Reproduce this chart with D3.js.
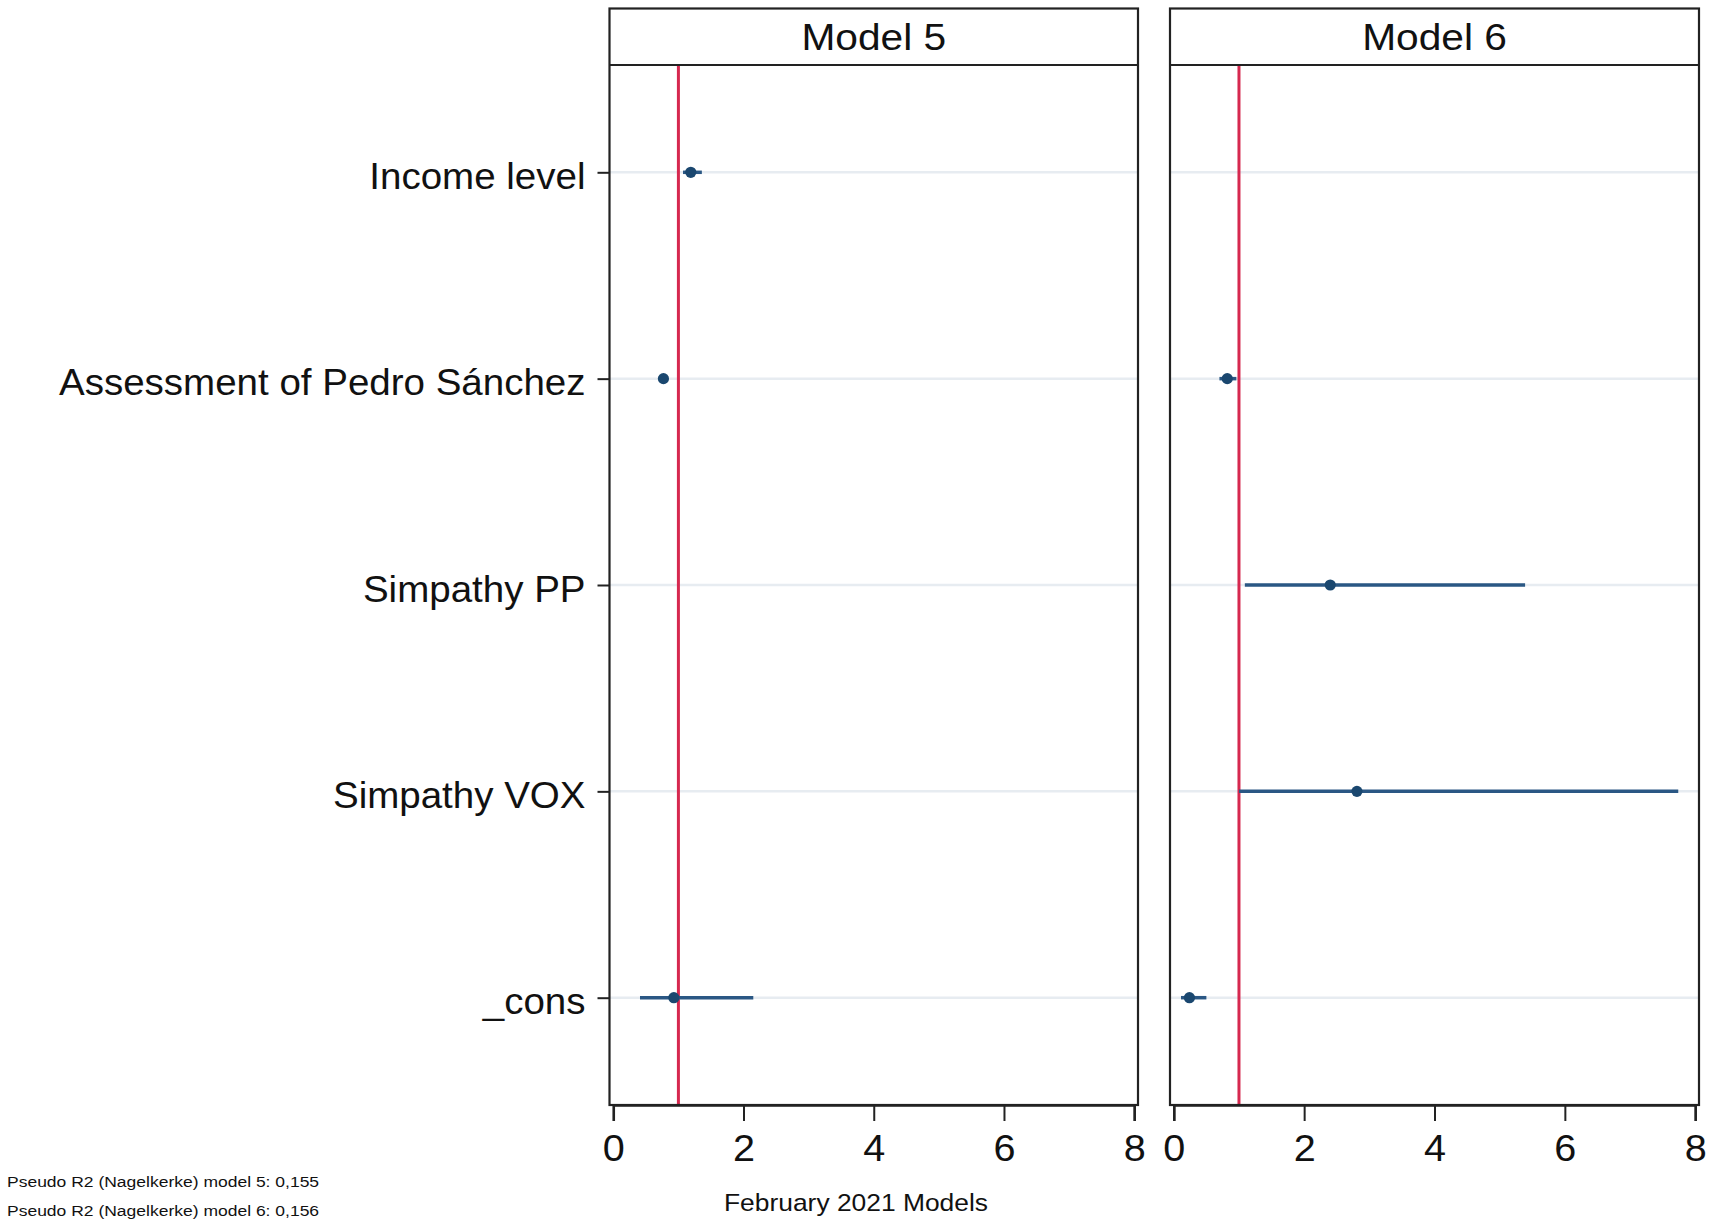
<!DOCTYPE html>
<html><head><meta charset="utf-8">
<script src="https://cdn.jsdelivr.net/npm/d3@7"></script>
<style>
body{margin:0;background:#fff}
svg{display:block}
text{font-family:"Liberation Sans",Arial,Helvetica,sans-serif;fill:#111}
</style>
</head><body>
<svg id="c" width="1715" height="1229"></svg>
<script>
// ---------- data ----------
const categories = ["Income level","Assessment of Pedro Sánchez","Simpathy PP","Simpathy VOX","_cons"];
const models = ["Model 5","Model 6"];
const model5Est = [1.19, 0.77, null, null, 0.93];
const model5Lo  = [1.07, 0.73, null, null, 0.41];
const model5Hi  = [1.36, 0.81, null, null, 2.15];
const model6Est = [null, 0.82, 2.40, 2.81, 0.24];
const model6Lo  = [null, 0.70, 1.09, 1.00, 0.11];
const model6Hi  = [null, 0.96, 5.39, 7.74, 0.50];
const xTicks = [0, 2, 4, 6, 8];
const xDomain = [0, 8];
const refValue = 1;
const xTitle = "February 2021 Models";
const notes = ["Pseudo R2 (Nagelkerke) model 5: 0,155", "Pseudo R2 (Nagelkerke) model 6: 0,156"];

const modelData = [
  {est: model5Est, lo: model5Lo, hi: model5Hi},
  {est: model6Est, lo: model6Lo, hi: model6Hi}
];

// ---------- layout ----------
const svg = d3.select("#c");
const panels = [{left: 609.5, right: 1138}, {left: 1170, right: 1699}];
const panelTop = 8.5, stripBottom = 65, panelBottom = 1105;
const inset = 3.8;
const navy = "#1a476f", lineCol = "#2a5784", red = "#d6284f", grid = "#e7ecf1", border = "#222";
const fontMain = "Liberation Sans, Arial, Helvetica, sans-serif";

const y = d3.scalePoint().domain(categories).range([stripBottom, panelBottom]).padding(0.52);

panels.forEach((p, i) => {
  const x = d3.scaleLinear().domain(xDomain).range([p.left + inset, p.right - inset]);
  const g = svg.append("g");

  // gridlines
  g.selectAll("line.grid").data(categories).join("line")
    .attr("class", "grid")
    .attr("x1", p.left).attr("x2", p.right)
    .attr("y1", d => y(d)).attr("y2", d => y(d))
    .attr("stroke", grid).attr("stroke-width", 2.5);

  // reference line
  g.append("line")
    .attr("x1", x(refValue)).attr("x2", x(refValue))
    .attr("y1", stripBottom).attr("y2", panelBottom)
    .attr("stroke", red).attr("stroke-width", 3);

  // CIs and points
  const md = modelData[i];
  const rows = categories.map((c, k) => ({c, est: md.est[k], lo: md.lo[k], hi: md.hi[k]}))
    .filter(r => r.est !== null);
  g.selectAll("line.ci").data(rows).join("line")
    .attr("class", "ci")
    .attr("x1", d => x(d.lo)).attr("x2", d => x(d.hi))
    .attr("y1", d => y(d.c)).attr("y2", d => y(d.c))
    .attr("stroke", lineCol).attr("stroke-width", 3.5);
  g.selectAll("circle.pt").data(rows).join("circle")
    .attr("class", "pt")
    .attr("cx", d => x(d.est)).attr("cy", d => y(d.c)).attr("r", 5.6)
    .attr("fill", navy);

  // panel border
  g.append("rect")
    .attr("x", p.left).attr("y", panelTop)
    .attr("width", p.right - p.left).attr("height", panelBottom - panelTop)
    .attr("fill", "none").attr("stroke", border).attr("stroke-width", 2.2);
  g.append("line")
    .attr("x1", p.left).attr("x2", p.right)
    .attr("y1", stripBottom).attr("y2", stripBottom)
    .attr("stroke", border).attr("stroke-width", 2.2);

  // strip title
  g.append("text")
    .attr("transform", `translate(${(p.left + p.right) / 2},50) scale(1.1,1)`)
    .attr("text-anchor", "middle")
    .attr("font-size", 37)
    .text(models[i]);

  // x axis
  const ax = svg.append("g")
    .attr("transform", `translate(0,${panelBottom})`)
    .call(d3.axisBottom(x).tickValues(xTicks).tickSize(16).tickFormat(d3.format("d")));
  ax.select(".domain").attr("stroke", border).attr("stroke-width", 2.5);
  ax.selectAll(".tick line").attr("stroke", border).attr("stroke-width", 2);
  ax.selectAll(".tick text")
    .attr("y", 30).attr("dy", "0.71em")
    .attr("font-size", 37).attr("font-family", fontMain).attr("fill", "#111")
    .attr("transform", "scale(1.07,1)");

  // y axis (left panel only)
  if (i === 0) {
    const ay = svg.append("g")
      .attr("transform", `translate(${p.left},0)`)
      .call(d3.axisLeft(y).tickSize(12));
    ay.select(".domain").remove();
    ay.selectAll(".tick line").attr("stroke", border).attr("stroke-width", 2);
    ay.selectAll(".tick text")
      .attr("x", 0).attr("dy", "0.45em")
      .attr("transform", "translate(-24,0) scale(1.07,1)")
      .attr("font-size", 36).attr("font-family", fontMain).attr("fill", "#111");
  }
});

// x title
svg.append("text")
  .attr("transform", "translate(856,1211) scale(1.1,1)")
  .attr("text-anchor", "middle")
  .attr("font-size", 24)
  .text(xTitle);

// notes
svg.selectAll("text.note").data(notes).join("text")
  .attr("class", "note")
  .attr("transform", (d, k) => `translate(7,${1187 + k * 28.5}) scale(1.13,1)`)
  .attr("font-size", 15.5)
  .text(d => d);
</script>
</body></html>
